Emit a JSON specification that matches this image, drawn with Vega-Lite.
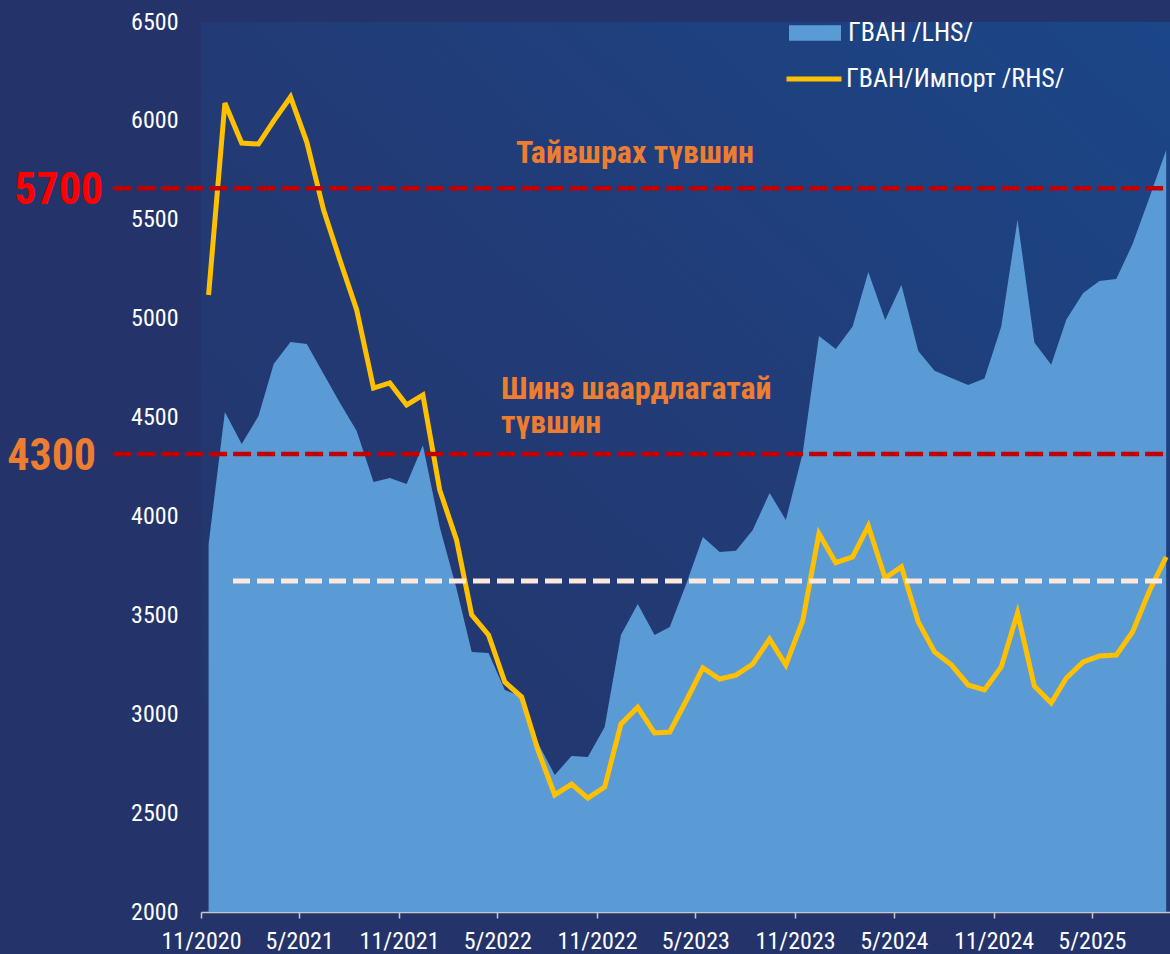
{
  "$schema": "https://vega.github.io/schema/vega-lite/v6.json",
  "width": 969,
  "height": 890,
  "autosize": {"type": "none"},
  "padding": {"left": 201, "top": 22, "right": 0, "bottom": 42},
  "background": "#24346A",
  "config": {
    "font": "Liberation Sans Narrow, Roboto Condensed, Roboto, sans-serif",
    "view": {
      "stroke": null,
      "fill": {"gradient": "linear", "x1": 0, "y1": 1, "x2": 1, "y2": 0, "stops": [{"offset": 0, "color": "#24346A"}, {"offset": 0.5, "color": "#223B76"}, {"offset": 1, "color": "#1B4687"}]}
    }
  },
  "datasets": {
    "series": [
      {"date": "2020-11-15", "reserves": 3860, "ratio": 5120},
      {"date": "2020-12-15", "reserves": 4528, "ratio": 6090},
      {"date": "2021-01-15", "reserves": 4366, "ratio": 5888},
      {"date": "2021-02-15", "reserves": 4508, "ratio": 5883},
      {"date": "2021-03-15", "reserves": 4771, "ratio": 6000},
      {"date": "2021-04-15", "reserves": 4882, "ratio": 6121},
      {"date": "2021-05-15", "reserves": 4872, "ratio": 5893},
      {"date": "2021-06-15", "reserves": 4720, "ratio": 5549},
      {"date": "2021-07-15", "reserves": 4575, "ratio": 5297},
      {"date": "2021-08-15", "reserves": 4432, "ratio": 5044},
      {"date": "2021-09-15", "reserves": 4174, "ratio": 4649},
      {"date": "2021-10-15", "reserves": 4194, "ratio": 4675},
      {"date": "2021-11-15", "reserves": 4164, "ratio": 4564},
      {"date": "2021-12-15", "reserves": 4360, "ratio": 4614},
      {"date": "2022-01-15", "reserves": 3947, "ratio": 4134},
      {"date": "2022-02-15", "reserves": 3635, "ratio": 3881},
      {"date": "2022-03-15", "reserves": 3315, "ratio": 3502},
      {"date": "2022-04-15", "reserves": 3310, "ratio": 3401},
      {"date": "2022-05-15", "reserves": 3123, "ratio": 3163},
      {"date": "2022-06-15", "reserves": 3088, "ratio": 3087},
      {"date": "2022-07-15", "reserves": 2855, "ratio": 2819},
      {"date": "2022-08-15", "reserves": 2693, "ratio": 2592},
      {"date": "2022-09-15", "reserves": 2789, "ratio": 2647},
      {"date": "2022-10-15", "reserves": 2784, "ratio": 2576},
      {"date": "2022-11-15", "reserves": 2935, "ratio": 2632},
      {"date": "2022-12-15", "reserves": 3401, "ratio": 2950},
      {"date": "2023-01-15", "reserves": 3557, "ratio": 3035},
      {"date": "2023-02-15", "reserves": 3401, "ratio": 2905},
      {"date": "2023-03-15", "reserves": 3441, "ratio": 2910},
      {"date": "2023-04-15", "reserves": 3664, "ratio": 3072},
      {"date": "2023-05-15", "reserves": 3896, "ratio": 3234},
      {"date": "2023-06-15", "reserves": 3820, "ratio": 3178},
      {"date": "2023-07-15", "reserves": 3826, "ratio": 3198},
      {"date": "2023-08-15", "reserves": 3931, "ratio": 3254},
      {"date": "2023-09-15", "reserves": 4119, "ratio": 3380},
      {"date": "2023-10-15", "reserves": 3982, "ratio": 3249},
      {"date": "2023-11-15", "reserves": 4320, "ratio": 3472},
      {"date": "2023-12-15", "reserves": 4912, "ratio": 3913},
      {"date": "2024-01-15", "reserves": 4847, "ratio": 3766},
      {"date": "2024-02-15", "reserves": 4960, "ratio": 3795},
      {"date": "2024-03-15", "reserves": 5236, "ratio": 3952},
      {"date": "2024-04-15", "reserves": 4993, "ratio": 3688},
      {"date": "2024-05-15", "reserves": 5170, "ratio": 3745},
      {"date": "2024-06-15", "reserves": 4836, "ratio": 3467},
      {"date": "2024-07-15", "reserves": 4737, "ratio": 3315},
      {"date": "2024-08-15", "reserves": 4700, "ratio": 3250},
      {"date": "2024-09-15", "reserves": 4665, "ratio": 3148},
      {"date": "2024-10-15", "reserves": 4697, "ratio": 3123},
      {"date": "2024-11-15", "reserves": 4960, "ratio": 3239},
      {"date": "2024-12-15", "reserves": 5500, "ratio": 3512},
      {"date": "2025-01-15", "reserves": 4880, "ratio": 3143},
      {"date": "2025-02-15", "reserves": 4767, "ratio": 3057},
      {"date": "2025-03-15", "reserves": 4996, "ratio": 3183},
      {"date": "2025-04-15", "reserves": 5130, "ratio": 3264},
      {"date": "2025-05-15", "reserves": 5190, "ratio": 3294},
      {"date": "2025-06-15", "reserves": 5200, "ratio": 3299},
      {"date": "2025-07-15", "reserves": 5377, "ratio": 3416},
      {"date": "2025-08-15", "reserves": 5612, "ratio": 3623},
      {"date": "2025-09-15", "reserves": 5853, "ratio": 3795}
    ],
    "redRules": [
      {"start": "2020-05-23", "end": "2025-09-14", "level": 5660},
      {"start": "2020-05-23", "end": "2025-09-10", "level": 4316}
    ],
    "whiteRule": [
      {"start": "2020-12-30", "end": "2025-09-13", "level": 3674}
    ]
  },
  "data": {"name": "series"},
  "encoding": {
    "x": {
      "field": "date",
      "type": "temporal",
      "scale": {"type": "utc", "domain": [{"year": 2020, "month": 11, "date": 1, "utc": true}, {"year": 2025, "month": 9, "date": 22, "utc": true}]},
      "axis": {
        "title": null,
        "values": [
          {"year": 2020, "month": 11, "date": 1, "utc": true},
          {"year": 2021, "month": 5, "date": 1, "utc": true},
          {"year": 2021, "month": 11, "date": 1, "utc": true},
          {"year": 2022, "month": 5, "date": 1, "utc": true},
          {"year": 2022, "month": 11, "date": 1, "utc": true},
          {"year": 2023, "month": 5, "date": 1, "utc": true},
          {"year": 2023, "month": 11, "date": 1, "utc": true},
          {"year": 2024, "month": 5, "date": 1, "utc": true},
          {"year": 2024, "month": 11, "date": 1, "utc": true},
          {"year": 2025, "month": 5, "date": 1, "utc": true}
        ],
        "format": "%-m/%Y",
        "grid": false,
        "domainColor": "#C8C8C8",
        "domainWidth": 1.5,
        "tickColor": "#C8C8C8",
        "tickWidth": 1.5,
        "tickSize": 6,
        "labelColor": "#FFFFFF",
        "labelFontSize": 24,
        "labelPadding": 11,
        "labelFlush": false,
        "labelOverlap": false
      }
    }
  },
  "layer": [
    {
      "mark": {"type": "area", "interpolate": "linear"},
      "encoding": {
        "y": {
          "field": "reserves",
          "type": "quantitative",
          "stack": null,
          "scale": {"domain": [2000, 6500], "zero": false, "nice": false},
          "axis": {
            "title": null,
            "values": [2000, 2500, 3000, 3500, 4000, 4500, 5000, 5500, 6000, 6500],
            "format": "d",
            "grid": false,
            "domain": false,
            "ticks": false,
            "tickSize": 0,
            "labelPadding": 23,
            "labelColor": "#FFFFFF",
            "labelFontSize": 24
          }
        },
        "y2": {"datum": 2000},
        "fill": {
          "datum": "ГВАН /LHS/",
          "type": "nominal",
          "scale": {"range": ["#5B9BD5"]},
          "legend": {
            "title": null,
            "orient": "none",
            "legendX": 588,
            "legendY": -15,
            "symbolType": "M-1,-0.3H1V0.3H-1Z",
            "symbolSize": 2704,
            "symbolStrokeWidth": 0,
            "labelColor": "#FFFFFF",
            "labelFontSize": 26,
            "labelOffset": 7,
            "labelLimit": 400,
            "padding": 0
          }
        }
      }
    },
    {
      "mark": {"type": "line", "strokeWidth": 5, "strokeJoin": "miter"},
      "encoding": {
        "y": {"field": "ratio", "type": "quantitative"},
        "stroke": {
          "datum": "ГВАН/Импорт /RHS/",
          "type": "nominal",
          "scale": {"range": ["#FFC000"]},
          "legend": {
            "title": null,
            "orient": "none",
            "legendX": 583,
            "legendY": 27,
            "symbolType": "stroke",
            "symbolSize": 3025,
            "symbolStrokeWidth": 5,
            "labelColor": "#FFFFFF",
            "labelFontSize": 26,
            "labelOffset": 2,
            "labelLimit": 400,
            "padding": 0
          }
        }
      }
    },
    {
      "data": {"name": "redRules"},
      "mark": {"type": "rule", "color": "#C00000", "strokeWidth": 4.5, "strokeDash": [18, 6]},
      "encoding": {
        "x": {"field": "start", "type": "temporal"},
        "x2": {"field": "end"},
        "y": {"field": "level", "type": "quantitative"}
      }
    },
    {
      "data": {"name": "whiteRule"},
      "mark": {"type": "rule", "color": "#FCE8DC", "strokeWidth": 5, "strokeDash": [17, 7]},
      "encoding": {
        "x": {"field": "start", "type": "temporal"},
        "x2": {"field": "end"},
        "y": {"field": "level", "type": "quantitative"}
      }
    },
    {
      "data": {"values": [{"date": "2020-05-23", "level": 5660, "label": "5700"}]},
      "mark": {"type": "text", "color": "#FF0000", "fontSize": 44, "fontWeight": "bold", "align": "right", "baseline": "middle", "dx": -10, "dy": 3},
      "encoding": {
        "x": {"field": "date", "type": "temporal"},
        "y": {"field": "level", "type": "quantitative"},
        "text": {"field": "label"}
      }
    },
    {
      "data": {"values": [{"date": "2020-05-23", "level": 4316, "label": "4300"}]},
      "mark": {"type": "text", "color": "#ED7D31", "fontSize": 44, "fontWeight": "bold", "align": "right", "baseline": "middle", "dx": -17, "dy": 3},
      "encoding": {
        "x": {"field": "date", "type": "temporal"},
        "y": {"field": "level", "type": "quantitative"},
        "text": {"field": "label"}
      }
    },
    {
      "data": {"values": [{"date": "2023-01-10", "level": 5787, "label": "Тайвшрах түвшин"}]},
      "mark": {"type": "text", "color": "#ED7D31", "fontSize": 32, "fontWeight": "bold", "align": "center", "baseline": "alphabetic"},
      "encoding": {
        "x": {"field": "date", "type": "temporal"},
        "y": {"field": "level", "type": "quantitative"},
        "text": {"field": "label"}
      }
    },
    {
      "data": {"values": [{"date": "2022-05-08", "level": 4594, "label": "Шинэ шаардлагатай\nтүвшин"}]},
      "mark": {"type": "text", "color": "#ED7D31", "fontSize": 32, "fontWeight": "bold", "align": "left", "baseline": "alphabetic", "lineBreak": "\n", "lineHeight": 34},
      "encoding": {
        "x": {"field": "date", "type": "temporal"},
        "y": {"field": "level", "type": "quantitative"},
        "text": {"field": "label"}
      }
    }
  ]
}
